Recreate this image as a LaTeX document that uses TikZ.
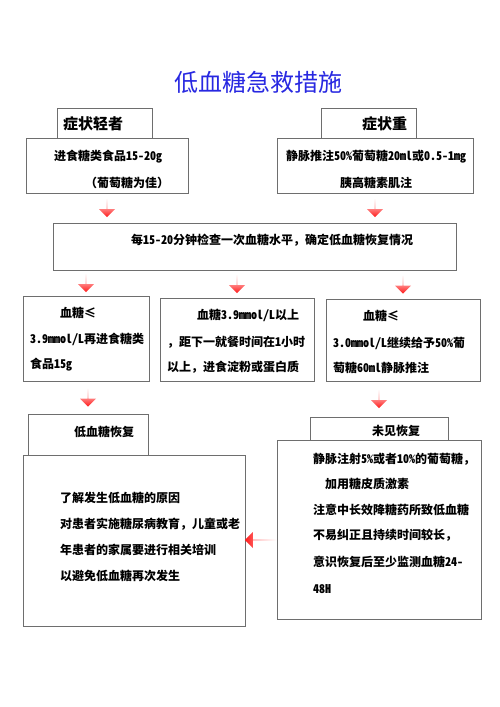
\documentclass[tikz,border=0pt]{standalone}
\usepackage{fontspec}
\setmainfont{Noto Sans CJK SC}
\newfontfamily\halffont{Noto Sans CJK SC}[RawFeature=+hwid]
\newcommand{\lat}[1]{{\halffont #1}}
\usetikzlibrary{shapes.arrows,calc}
\definecolor{titleblue}{RGB}{40,40,225}
\definecolor{boxgray}{RGB}{110,110,110}
\tikzset{
  box/.style={draw=boxgray, line width=0.8pt, fill=white, inner sep=0pt, outer sep=0pt, anchor=north west},
  txt/.style={anchor=west, inner sep=0pt, font=\fontsize{12}{14}\selectfont\bfseries},
  headtxt/.style={anchor=west, inner sep=0pt, font=\fontsize{15}{18}\selectfont\bfseries},
  downarr/.style={single arrow, shape border rotate=270, draw=none, inner sep=0pt,
    minimum height=18pt, minimum width=16pt, single arrow head extend=4.5pt,
    top color=red!6, bottom color=red!90},
  leftarr/.style={single arrow, shape border rotate=180, draw=none, inner sep=0pt,
    minimum height=32pt, minimum width=16pt, single arrow head extend=4.5pt,
    left color=red!90, right color=white}
}
\begin{document}
\begin{tikzpicture}[x=1pt, y=-1pt]
    \useasboundingbox (0,0) rectangle (500,707);
    % Title
    \node[font=\fontsize{24}{28}\selectfont, text=titleblue] (title) at (258,82) {低血糖急救措施};
    % Top row
    \node[box, minimum width=95pt, minimum height=30pt] (mildhd) at (57,108) {};
    \node[box, minimum width=162pt, minimum height=55pt] (mild) at (26,138) {};
    \node[box, minimum width=95pt, minimum height=30pt] (severehd) at (321,108) {};
    \node[box, minimum width=196pt, minimum height=55pt] (severe) at (277,138) {};
    \node[headtxt] (mildhdtxt) at (63,124) {症状轻者};
    \node[headtxt] (severehdtxt) at (362,124) {症状重};
    \node[txt] (mildtxta) at (54,157) {进食糖类食品\lat{15-20g}};
    \node[txt] (mildtxtb) at (85,183) {（葡萄糖为佳）};
    \node[txt] (severetxta) at (286,157) {静脉推注\lat{50\%}葡萄糖\lat{20ml}或\lat{0.5-1mg}};
    \node[txt] (severetxtb) at (340,183) {胰高糖素肌注};
    % Check box
    \node[box, minimum width=403pt, minimum height=47pt] (check) at (53,223) {};
    \node[txt] (checktxt) at (131,240) {每\lat{15-20}分钟检查一次血糖水平，确定低血糖恢复情况};
    \node[downarr] (arra) at ($(mild.south)!.5!(mild.south|-check.north)$) {};
    \node[downarr] (arrb) at ($(severe.south)!.5!(severe.south|-check.north)$) {};
    % Three cases
    \node[box, minimum width=126pt, minimum height=85pt] (lowa) at (23,296) {};
    \node[box, minimum width=154pt, minimum height=83pt] (midb) at (160,298) {};
    \node[box, minimum width=154pt, minimum height=82pt] (lowc) at (326,299) {};
    \node[downarr] (arrc) at ($(lowa.north)!.5!(lowa.north|-check.south)$) {};
    \node[downarr] (arrd) at ($(midb.north)!.5!(midb.north|-check.south)$) {};
    \node[downarr] (arre) at ($(lowc.north)!.5!(lowc.north|-check.south)$) {};
    \node[txt] (lowatxta) at (60,313) {血糖≤};
    \node[txt] (lowatxtb) at (30,339) {\lat{3.9mmol/L}再进食糖类};
    \node[txt] (lowatxtc) at (30,365) {食品\lat{15g}};
    \node[txt] (midbtxta) at (197,315) {血糖\lat{3.9mmol/L}以上};
    \node[txt] (midbtxtb) at (167,342) {，距下一就餐时间在\lat{1}小时};
    \node[txt] (midbtxtc) at (167,367) {以上，进食淀粉或蛋白质};
    \node[txt] (lowctxta) at (363,316) {血糖≤};
    \node[txt] (lowctxtb) at (333,343) {\lat{3.0mmol/L}继续给予\lat{50\%}葡};
    \node[txt] (lowctxtc) at (333,368) {萄糖\lat{60ml}静脉推注};
    % Recovered / not recovered
    \node[box, minimum width=120pt, minimum height=41pt] (rechd) at (28,414) {};
    \node[box, minimum width=222pt, minimum height=171pt] (recbig) at (23,455) {};
    \node[box, minimum width=138pt, minimum height=30pt] (norechd) at (310,417) {};
    \node[box, minimum width=204pt, minimum height=179pt] (norecbig) at (277,440) {};
    \node[downarr] (arrf) at ($(rechd.north)!.5!(rechd.north|-lowa.south)$) {};
    \node[downarr] (arrg) at ($(norechd.north)!.5!(norechd.north|-lowc.south)$) {};
    \node[leftarr] (arrh) at ($(recbig.east)!.5!(norecbig.west)+(0,5)$) {};
    \node[txt] (rechdtxt) at (74,432) {低血糖恢复};
    \node[txt] (norechdtxt) at (372,431) {未见恢复};
    \node[txt] (rectxta) at (60,498) {了解发生低血糖的原因};
    \node[txt] (rectxtb) at (60,524) {对患者实施糖尿病教育，儿童或老};
    \node[txt] (rectxtc) at (60,550) {年患者的家属要进行相关培训};
    \node[txt] (rectxtd) at (60,576) {以避免低血糖再次发生};
    \node[txt] (norectxta) at (313,459) {静脉注射\lat{5\%}或者\lat{10\%}的葡萄糖，};
    \node[txt] (norectxtb) at (325,484) {加用糖皮质激素};
    \node[txt] (norectxtc) at (313,510) {注意中长效降糖药所致低血糖};
    \node[txt] (norectxtd) at (313,535) {不易纠正且持续时间较长，};
    \node[txt] (norectxte) at (313,562) {意识恢复后至少监测血糖\lat{24-}};
    \node[txt] (norectxtf) at (313,589) {\lat{48H}};
\end{tikzpicture}
\end{document}
